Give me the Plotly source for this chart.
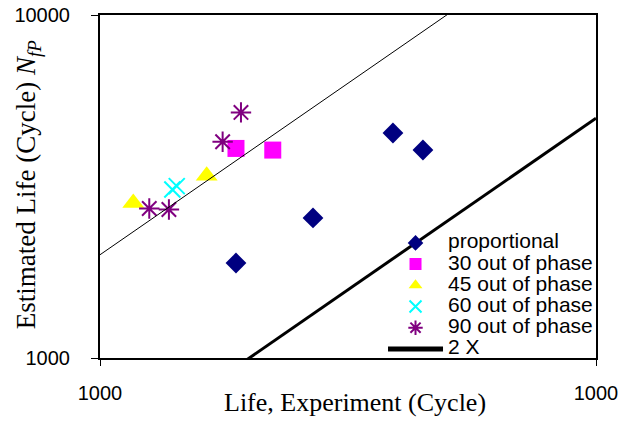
import plotly.graph_objects as go

# ---- data ----
prop_x = [1880, 2688, 3896, 4478]
prop_y = [1892, 2560, 4529, 4040]

p30_x = [1880, 2230]
p30_y = [4083, 4038]

p45_x = [1167, 1641]
p45_y = [2830, 3401]

p60_x = [1399, 1428]
p60_y = [3100, 3170]

p90_x = [1257, 1377, 1767, 1924]
p90_y = [2729, 2711, 4269, 5200]

series_names = ["proportional", "30 out of phase", "45 out of phase",
                "60 out of phase", "90 out of phase", "2 X"]

line_x = [1000, 10000]
factor = 2

x_tickvals = [1000, 10000]
x_ticktext = ["1000", "1000"]
y_tickvals = [1000, 10000]
y_ticktext = ["1000", "10000"]

SANS = "Arial, 'Liberation Sans', sans-serif"
SERIF = "'Times New Roman', 'Liberation Serif', serif"


def lg(name):
    # larger legend text while keeping the compact row spacing
    return '<span style="font-size:21px">' + name + '</span>'


fig = go.Figure()

fig.add_trace(go.Scatter(x=prop_x, y=prop_y, mode="markers", name=lg(series_names[0]),
                         marker=dict(symbol="diamond", size=16, color="#000080")))
fig.add_trace(go.Scatter(x=p30_x, y=p30_y, mode="markers", name=lg(series_names[1]),
                         marker=dict(symbol="square", size=17, color="#FF00FF")))
fig.add_trace(go.Scatter(x=p45_x, y=p45_y, mode="markers", name=lg(series_names[2]),
                         marker=dict(symbol="triangle-up", size=19, color="#FFFF00")))
fig.add_trace(go.Scatter(x=p60_x, y=p60_y, mode="markers", name=lg(series_names[3]),
                         marker=dict(symbol="x-thin-open", size=16, color="#00FFFF",
                                     line=dict(width=2, color="#00FFFF"))))
fig.add_trace(go.Scatter(x=p90_x, y=p90_y, mode="markers", name=lg(series_names[4]),
                         marker=dict(symbol="asterisk-open", size=17, color="#800080",
                                     line=dict(width=2, color="#800080"))))

# 2X band lines
fig.add_trace(go.Scatter(x=line_x, y=[v * factor for v in line_x], mode="lines",
                         showlegend=False, line=dict(color="black", width=1)))
fig.add_trace(go.Scatter(x=line_x, y=[v / factor for v in line_x], mode="lines",
                         name=lg(series_names[5]), line=dict(color="black", width=3)))

fig.update_xaxes(type="log", range=[3, 4], tickvals=x_tickvals, ticktext=x_ticktext,
                 showgrid=False, zeroline=False, showline=True, mirror=True,
                 linecolor="black", linewidth=2, ticks="outside", ticklen=6,
                 tickcolor="black", tickwidth=1, ticklabelstandoff=10, automargin=False,
                 tickfont=dict(family=SANS, size=20, color="black"))
fig.update_yaxes(type="log", range=[3, 4], tickvals=y_tickvals, ticktext=y_ticktext,
                 showgrid=False, zeroline=False, showline=True, mirror=True,
                 linecolor="black", linewidth=2, ticks="outside", ticklen=7,
                 tickcolor="black", tickwidth=1, ticklabelstandoff=17, automargin=False,
                 tickfont=dict(family=SANS, size=20, color="black"))

fig.add_annotation(text="Life, Experiment (Cycle)", xref="paper", yref="paper",
                   x=0.514, y=-0.131, showarrow=False, xanchor="center", yanchor="middle",
                   font=dict(family=SERIF, size=26, color="black"))
fig.add_annotation(text="Estimated Life (Cycle) <i>N</i><sub><i>fP</i></sub>",
                   xref="paper", yref="paper", x=-0.145, y=0.504, textangle=-90,
                   showarrow=False, xanchor="center", yanchor="middle",
                   font=dict(family=SERIF, size=27, color="black"))

fig.update_layout(
    width=623, height=422,
    margin=dict(l=100, r=27, t=15, b=64, autoexpand=False),
    paper_bgcolor="white", plot_bgcolor="white",
    showlegend=True,
    legend=dict(x=0.5706, y=0.381, xanchor="left", yanchor="top",
                bgcolor="rgba(0,0,0,0)", borderwidth=0, itemsizing="constant",
                itemwidth=55,
                font=dict(family=SANS, size=14, color="black"), tracegroupgap=0),
)

fig.write_html("out.html")
